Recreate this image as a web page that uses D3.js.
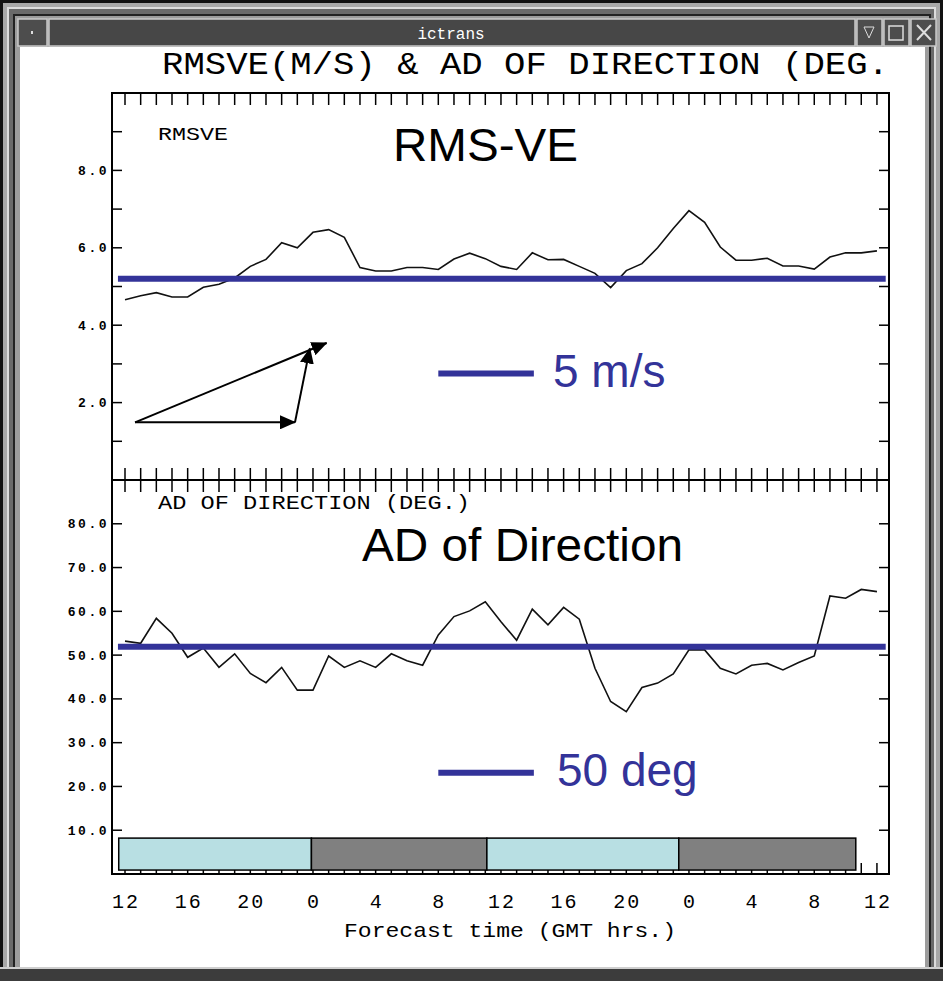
<!DOCTYPE html>
<html>
<head>
<meta charset="utf-8">
<script src="https://cdn.jsdelivr.net/npm/d3@7"></script>
<style>
  body { margin: 0; background: #fff; }
  text.mono { font-family: "Liberation Mono", "DejaVu Sans Mono", monospace; font-variant-numeric: slashed-zero; }
  text.sans { font-family: "Liberation Sans", Arial, sans-serif; }
</style>
</head>
<body>
<div id="chart"></div>
<script>
// forecast hours (12Z day 1 -> 12Z day 3)
var hours = d3.range(0, 49);

// RMS vector error (m/s), one value per hour
var rmsve = [4.66, 4.76, 4.84, 4.73, 4.73, 4.98, 5.06, 5.22, 5.52, 5.70,
             6.13, 6.00, 6.40, 6.47, 6.27, 5.49, 5.40, 5.40, 5.49, 5.49,
             5.44, 5.71, 5.86, 5.72, 5.52, 5.44, 5.87, 5.69, 5.70, 5.52,
             5.34, 4.97, 5.41, 5.59, 6.00, 6.50, 6.96, 6.66, 6.02, 5.68,
             5.68, 5.73, 5.53, 5.53, 5.45, 5.76, 5.87, 5.87, 5.92];

// absolute deviation of direction (deg.), one value per hour
var adDir = [53.2, 52.7, 58.4, 55.0, 49.5, 51.6, 47.2, 50.3, 45.8, 43.7,
             47.2, 42.0, 42.0, 49.8, 47.2, 48.7, 47.2, 50.3, 48.7, 47.7,
             54.6, 58.8, 60.1, 62.2, 57.6, 53.4, 60.5, 56.9, 60.9, 58.2,
             47.0, 39.4, 37.1, 42.6, 43.6, 45.7, 51.2, 51.2, 47.0, 45.7,
             47.7, 48.1, 46.6, 48.3, 49.8, 63.5, 63.0, 65.0, 64.5];

// x tick labels (GMT hour) every 4 forecast hours
var xTickHours = [0, 4, 8, 12, 16, 20, 24, 28, 32, 36, 40, 44, 48];
var xTickLabels = ["12", "16", "20", "0", "4", "8", "12", "16", "20", "0", "4", "8", "12"];

// y tick labels
var rmsTicks = [2, 4, 6, 8];
var rmsTickLabels = ["2.0", "4.0", "6.0", "8.0"];
var adTicks = [10, 20, 30, 40, 50, 60, 70, 80];
var adTickLabels = ["10.0", "20.0", "30.0", "40.0", "50.0", "60.0", "70.0", "80.0"];

// reference lines
var rmsRef = 5.2;
var adRef = 51.9;
var refStart = -0.45, refEnd = 48.56;

// day / night bar (forecast hour boundaries)
var dayNightEdges = [-0.4, 11.9, 23.1, 35.35, 46.65];
var dayNightKind = ["day", "night", "day", "night"];

// vector triangle sketch in the top panel (hour, m/s)
var vecPoints = {A: [0.64, 1.49], B: [10.85, 1.49], C: [11.8, 3.40], D: [12.87, 3.54]};
var vecArrows = [["A", "B"], ["B", "C"], ["A", "D"]];

// layout
var W = 943, H = 981;
var plotL = 112, plotR = 889, plotT = 93, plotM = 480, plotB = 874;
var blue = "#333399";

var svg = d3.select("#chart")
  .append("svg")
  .attr("width", W)
  .attr("height", H);

// ---- window frame ----
svg.append("rect").attr("width", W).attr("height", H).attr("fill", "#a8a8a8");
svg.append("rect").attr("x", 1.5).attr("y", 1.5).attr("width", W - 3).attr("height", H - 3)
  .attr("fill", "none").attr("stroke", "#111").attr("stroke-width", 3);
svg.append("rect").attr("x", 8).attr("y", 8).attr("width", W - 16).attr("height", H - 16)
  .attr("fill", "#6a6a6a").attr("stroke", "#dcdcdc").attr("stroke-width", 2);
svg.append("rect").attr("x", 14).attr("y", 15).attr("width", W - 27).attr("height", H - 28)
  .attr("fill", "#9c9c9c").attr("stroke", "#222").attr("stroke-width", 2);

// title bar
svg.append("rect").attr("x", 18).attr("y", 19).attr("width", 29).attr("height", 27)
  .attr("fill", "#4d4d4d").attr("stroke", "#c8c8c8").attr("stroke-width", 1.5);
svg.append("rect").attr("x", 31).attr("y", 31).attr("width", 2).attr("height", 3).attr("fill", "#ddd");
svg.append("rect").attr("x", 49).attr("y", 19).attr("width", 806).attr("height", 27)
  .attr("fill", "#474747").attr("stroke", "#c8c8c8").attr("stroke-width", 1.5);
svg.append("text").attr("class", "mono")
  .attr("x", 451).attr("y", 39)
  .attr("text-anchor", "middle")
  .attr("fill", "#fff")
  .style("font-size", "16px")
  .text("ictrans");
[857, 884, 911].forEach(function(bx) {
  svg.append("rect").attr("x", bx).attr("y", 19).attr("width", 25).attr("height", 27)
    .attr("fill", "#4d4d4d").attr("stroke", "#c8c8c8").attr("stroke-width", 1.5);
});
svg.append("path").attr("d", "M864,27 L874,27 L869,38 Z").attr("fill", "none").attr("stroke", "#ddd");
svg.append("rect").attr("x", 889).attr("y", 26).attr("width", 14).attr("height", 14)
  .attr("fill", "none").attr("stroke", "#ddd").attr("stroke-width", 1.5);
svg.append("path").attr("d", "M917,25 L931,40 M931,25 L917,40").attr("stroke", "#ddd").attr("stroke-width", 2);

// client area
svg.append("rect").attr("x", 20).attr("y", 47).attr("width", 905).attr("height", 920).attr("fill", "#fff");
svg.append("rect").attr("x", 0).attr("y", 967).attr("width", W).attr("height", 14).attr("fill", "#3c3c3c");
svg.append("line").attr("x1", 0).attr("x2", W).attr("y1", 968).attr("y2", 968).attr("stroke", "#cfcfcf").attr("stroke-width", 2);

// ---- scales ----
var x = d3.scaleLinear().domain([-0.83, 48.77]).range([plotL, plotR]);
var yTop = d3.scaleLinear().domain([0, 10]).range([plotM, plotT]);
var yBot = d3.scaleLinear().domain([0, 90]).range([plotB, plotM]);

// title
svg.append("text").attr("class", "mono")
  .attr("x", 162).attr("y", 74)
  .attr("textLength", 727).attr("lengthAdjust", "spacingAndGlyphs")
  .style("font-size", "31px")
  .attr("fill", "#000")
  .text("RMSVE(M/S) & AD OF DIRECTION (DEG.");

// ---- bottom ticks first, the day / night bar covers most of them ----
var bottomTicks = svg.append("g");
hours.forEach(function(h) {
  bottomTicks.append("line")
    .attr("x1", x(h)).attr("x2", x(h))
    .attr("y1", plotB).attr("y2", plotB - 11)
    .attr("stroke", "#000").attr("stroke-width", 1.5);
});
svg.append("g").selectAll("rect")
  .data(dayNightKind)
  .join("rect")
  .attr("x", function(d, i) { return x(dayNightEdges[i]); })
  .attr("width", function(d, i) { return x(dayNightEdges[i + 1]) - x(dayNightEdges[i]); })
  .attr("y", yBot(8.2))
  .attr("height", yBot(0.9) - yBot(8.2))
  .attr("fill", function(d) { return d == "day" ? "#b8dfe3" : "#808080"; })
  .attr("stroke", "#000")
  .attr("stroke-width", 1.5);

// ---- frame of the two panels ----
svg.append("rect")
  .attr("x", plotL).attr("y", plotT)
  .attr("width", plotR - plotL).attr("height", plotB - plotT)
  .attr("fill", "none").attr("stroke", "#000").attr("stroke-width", 2);
svg.append("line").attr("x1", plotL).attr("x2", plotR).attr("y1", plotM).attr("y2", plotM)
  .attr("stroke", "#000").attr("stroke-width", 2);

// hourly ticks on the top edge and across the middle
var ticksG = svg.append("g").attr("stroke", "#000").attr("stroke-width", 1.5);
hours.forEach(function(h) {
  ticksG.append("line").attr("x1", x(h)).attr("x2", x(h)).attr("y1", plotT).attr("y2", plotT + 12);
  ticksG.append("line").attr("x1", x(h)).attr("x2", x(h)).attr("y1", plotM - 12).attr("y2", plotM + 12);
});

// y ticks, inward on both sides
d3.range(1, 10).forEach(function(v) {
  ticksG.append("line").attr("x1", plotL).attr("x2", plotL + 10).attr("y1", yTop(v)).attr("y2", yTop(v));
  ticksG.append("line").attr("x1", plotR - 10).attr("x2", plotR).attr("y1", yTop(v)).attr("y2", yTop(v));
});
adTicks.forEach(function(v) {
  ticksG.append("line").attr("x1", plotL).attr("x2", plotL + 10).attr("y1", yBot(v)).attr("y2", yBot(v));
  ticksG.append("line").attr("x1", plotR - 10).attr("x2", plotR).attr("y1", yBot(v)).attr("y2", yBot(v));
});

// y tick labels
svg.append("g").selectAll("text")
  .data(rmsTicks)
  .join("text")
  .attr("class", "mono")
  .attr("x", plotL - 3)
  .attr("y", function(d) { return yTop(d); })
  .attr("dy", "0.35em")
  .attr("text-anchor", "end")
  .style("font-size", "13px").style("font-weight", "bold").style("letter-spacing", "2.5px")
  .text(function(d, i) { return rmsTickLabels[i]; });
svg.append("g").selectAll("text")
  .data(adTicks)
  .join("text")
  .attr("class", "mono")
  .attr("x", plotL - 3)
  .attr("y", function(d) { return yBot(d); })
  .attr("dy", "0.35em")
  .attr("text-anchor", "end")
  .style("font-size", "13px").style("font-weight", "bold").style("letter-spacing", "2.5px")
  .text(function(d, i) { return adTickLabels[i]; });

// x tick labels
svg.append("g").selectAll("text")
  .data(xTickHours)
  .join("text")
  .attr("class", "mono")
  .attr("x", function(d) { return x(d) + 1; })
  .attr("y", 908)
  .attr("text-anchor", "middle")
  .style("font-size", "20px").style("letter-spacing", "2px")
  .text(function(d, i) { return xTickLabels[i]; });

svg.append("text").attr("class", "mono")
  .attr("x", 344).attr("y", 937)
  .attr("textLength", 332).attr("lengthAdjust", "spacingAndGlyphs")
  .style("font-size", "21px")
  .text("Forecast time (GMT hrs.)");

// panel labels
svg.append("text").attr("class", "mono")
  .attr("x", 158).attr("y", 140)
  .attr("textLength", 70).attr("lengthAdjust", "spacingAndGlyphs")
  .style("font-size", "19px")
  .text("RMSVE");
svg.append("text").attr("class", "mono")
  .attr("x", 158).attr("y", 509)
  .attr("textLength", 312).attr("lengthAdjust", "spacingAndGlyphs")
  .style("font-size", "20px")
  .text("AD OF DIRECTION (DEG.)");

// ---- data lines ----
var lineTop = d3.line()
  .x(function(d, i) { return x(hours[i]); })
  .y(function(d) { return yTop(d); });
var lineBot = d3.line()
  .x(function(d, i) { return x(hours[i]); })
  .y(function(d) { return yBot(d); });

svg.append("path").datum(rmsve)
  .attr("fill", "none").attr("stroke", "#111").attr("stroke-width", 1.6)
  .attr("d", lineTop);
svg.append("path").datum(adDir)
  .attr("fill", "none").attr("stroke", "#111").attr("stroke-width", 1.6)
  .attr("d", lineBot);

// reference lines
svg.append("line")
  .attr("x1", x(refStart)).attr("x2", x(refEnd))
  .attr("y1", yTop(rmsRef)).attr("y2", yTop(rmsRef))
  .attr("stroke", blue).attr("stroke-width", 6);
svg.append("line")
  .attr("x1", x(refStart)).attr("x2", x(refEnd))
  .attr("y1", yBot(adRef)).attr("y2", yBot(adRef))
  .attr("stroke", blue).attr("stroke-width", 6);

// legend keys
svg.append("line")
  .attr("x1", x(20)).attr("x2", x(26.1))
  .attr("y1", yTop(2.75)).attr("y2", yTop(2.75))
  .attr("stroke", blue).attr("stroke-width", 6);
svg.append("line")
  .attr("x1", x(20)).attr("x2", x(26.1))
  .attr("y1", yBot(23.1)).attr("y2", yBot(23.1))
  .attr("stroke", blue).attr("stroke-width", 6);
svg.append("text").attr("class", "sans")
  .attr("x", 553).attr("y", 387)
  .attr("fill", blue).style("font-size", "46px")
  .text("5 m/s");
svg.append("text").attr("class", "sans")
  .attr("x", 557).attr("y", 786)
  .attr("fill", blue).style("font-size", "46px")
  .text("50 deg");

// big panel titles
svg.append("text").attr("class", "sans")
  .attr("x", 393).attr("y", 161)
  .attr("textLength", 185).attr("lengthAdjust", "spacingAndGlyphs")
  .style("font-size", "46px")
  .text("RMS-VE");
svg.append("text").attr("class", "sans")
  .attr("x", 362).attr("y", 561)
  .attr("textLength", 321).attr("lengthAdjust", "spacingAndGlyphs")
  .style("font-size", "46px")
  .text("AD of Direction");

// ---- vector triangle sketch ----
svg.append("defs").append("marker")
  .attr("id", "head")
  .attr("markerUnits", "userSpaceOnUse")
  .attr("markerWidth", 16).attr("markerHeight", 14)
  .attr("refX", 15).attr("refY", 7)
  .attr("orient", "auto")
  .append("path")
  .attr("d", "M0,0 L16,7 L0,14 Z")
  .attr("fill", "#000");

svg.append("g").selectAll("line")
  .data(vecArrows)
  .join("line")
  .attr("x1", function(d) { return x(vecPoints[d[0]][0]); })
  .attr("y1", function(d) { return yTop(vecPoints[d[0]][1]); })
  .attr("x2", function(d) { return x(vecPoints[d[1]][0]); })
  .attr("y2", function(d) { return yTop(vecPoints[d[1]][1]); })
  .attr("stroke", "#000").attr("stroke-width", 2)
  .attr("marker-end", "url(#head)");
</script>
</body>
</html>
